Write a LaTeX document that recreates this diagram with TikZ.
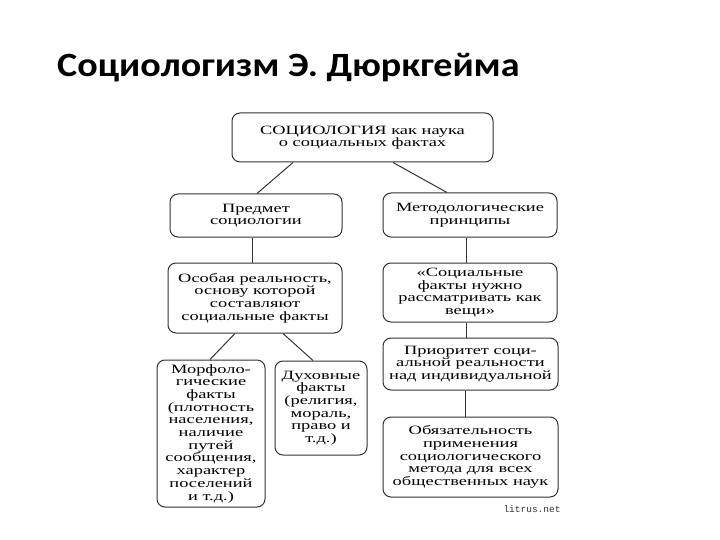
\documentclass[tikz,border=0pt]{standalone}
\usepackage{fontspec}
\setmainfont{Liberation Serif}
\newfontfamily\titlefont[FakeStretch=1.12]{Carlito}
\newfontfamily\diagfont[FakeStretch=1.45]{Liberation Serif}
\newfontfamily\markfont{Liberation Mono}
\definecolor{boxline}{HTML}{333333}
\tikzset{
  box/.style={draw=boxline, line width=1pt, rounded corners=8pt, align=center,
    inner sep=0pt, font=\diagfont\fontsize{12.7}{12.7}\selectfont, text=black},
  link/.style={draw=boxline, line width=1pt}
}
\begin{document}
\begin{tikzpicture}[x=1pt,y=-1pt]
\useasboundingbox (0,0) rectangle (720,540);
\fill[white] (0,0) rectangle (720,540);
\node[anchor=base west, inner sep=0pt, font=\titlefont\bfseries\fontsize{34}{40}\selectfont] (title) at (57,77) {Социологизм Э. Дюркгейма};

\node[box, minimum width=261pt, minimum height=49pt] (top) at (362.5,137.5) {СОЦИОЛОГИЯ как наука\\о социальных фактах};
\node[box, minimum width=172pt, minimum height=43pt] (pred) at (256,215.5) {Предмет\\социологии};
\node[box, minimum width=174pt, minimum height=44pt] (metod) at (470,215) {Методологические\\принципы};
\node[box, minimum width=174pt, minimum height=70pt] (osob) at (255,298) {Особая реальность,\\основу которой\\составляют\\социальные факты};
\node[box, minimum width=174pt, minimum height=59pt] (soc) at (470,292.5) {«Социальные\\факты нужно\\рассматривать как\\вещи»};
\node[box, minimum width=175pt, minimum height=52pt] (prior) at (470.5,364) {Приоритет соци-\\альной реальности\\над индивидуальной};
\node[box, minimum width=175pt, minimum height=80pt] (obyaz) at (470.5,457) {Обязательность\\применения\\социологического\\метода для всех\\общественных наук};
\node[box, minimum width=108pt, minimum height=147pt] (morf) at (211,433.5) {Морфоло-\\гические\\факты\\(плотность\\населения,\\наличие\\путей\\сообщения,\\характер\\поселений\\и т.д.)};
\node[box, minimum width=92pt, minimum height=94pt] (duh) at (321,408) {Духовные\\факты\\(религия,\\мораль,\\право и\\т.д.)};

\node[anchor=base, font=\markfont\fontsize{9.5}{10}\selectfont, text=black!80] (mark) at (532,512) {litrus.net};

\draw[link] ([xshift=-69.5pt]top.south) -- ([xshift=1pt]pred.north);
\draw[link] ([xshift=30.5pt]top.south) -- ([xshift=-23pt]metod.north);
\draw[link] ([xshift=-4pt]pred.south) -- ([xshift=-3pt]osob.north);
\draw[link] ([xshift=-4pt]metod.south) -- ([xshift=-4pt]soc.north);
\draw[link] ([xshift=-20pt]osob.south) -- ([xshift=-1pt]morf.north);
\draw[link] ([xshift=28pt]osob.south) -- ([xshift=-8pt]duh.north);
\draw[link] ([xshift=-4pt]soc.south) -- ([xshift=-4.5pt]prior.north);
\draw[link] ([xshift=-5.5pt]prior.south) -- ([xshift=-5.5pt]obyaz.north);
\end{tikzpicture}
\end{document}
